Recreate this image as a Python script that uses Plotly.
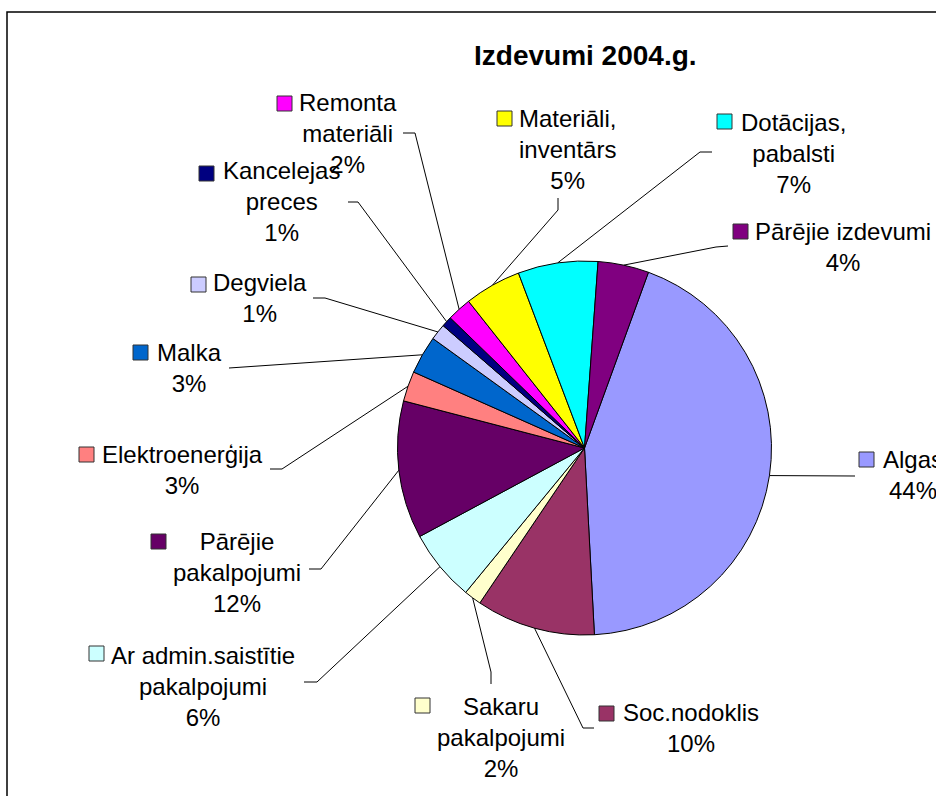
import math
import plotly.graph_objects as go

# ---------------- data ----------------
categories = ["Algas", "Soc.nodoklis", "Sakaru pakalpojumi", "Ar admin.saistītie pakalpojumi",
              "Pārējie pakalpojumi", "Elektroenerģija", "Malka", "Degviela", "Kancelejas preces",
              "Remonta materiāli", "Materiāli, inventārs", "Dotācijas, pabalsti", "Pārējie izdevumi"]
values = [43.6, 10.3, 1.5, 6.2, 11.9, 2.6, 3.3, 1.4, 0.9, 2.1, 4.9, 6.9, 4.4]
colors = ["#9999FF", "#993366", "#FFFFCC", "#CCFFFF", "#660066", "#FF8080", "#0066CC",
          "#CCCCFF", "#000080", "#FF00FF", "#FFFF00", "#00FFFF", "#800080"]
title = "Izdevumi 2004.g."

# ---------------- layout (window pixels) ----------------
W, H = 936, 796
CX, CY, R = 584.5, 448, 187
ROTATION = 20

label_lines = ["Algas", "Soc.nodoklis", "Sakaru<br>pakalpojumi", "Ar admin.saistītie<br>pakalpojumi",
               "Pārējie<br>pakalpojumi", "Elektroenerģija", "Malka", "Degviela", "Kancelejas<br>preces",
               "Remonta<br>materiāli", "Materiāli,<br>inventārs", "Dotācijas,<br>pabalsti", "Pārējie izdevumi"]
label_center = [(913, 475), (691, 728), (501, 737), (203, 686), (237, 572), (182, 470), (189, 368),
                (260, 298), (281, 202), (348, 133), (567, 149), (793, 153), (843, 247)]
key_pos = [(859, 452), (599, 706), (415, 698), (89, 646), (151, 534), (79, 447), (133, 345),
           (191, 277), (199, 166), (277, 96), (497, 111), (717, 114), (733, 224)]
leader_start = [(855, 476), (594, 728), (491, 684), (304, 682), (309, 569), (270, 469), (229, 368),
                (313, 298), (348, 202), (403, 133), (558, 198), (712, 152), (728, 246)]
leader_elbow = [(855, 476), (583, 728), (491, 672), (317, 682), (321, 569), (282, 469), (229, 368),
                (325, 298), (358, 202), (415, 133), (558, 210), (700, 152), (716, 247)]
KEY = 15
FONT = "Arial, Liberation Sans, sans-serif"


def px(x):
    return x / W


def py(y):
    return 1 - y / H


fig = go.Figure()
fig.add_trace(go.Pie(
    labels=categories, values=values, sort=False, direction="clockwise", rotation=ROTATION,
    marker=dict(colors=colors, line=dict(color="black", width=1)),
    textinfo="none", hoverinfo="label+percent", showlegend=False,
    domain=dict(x=[px(CX - R), px(CX + R)], y=[py(CY + R), py(CY - R)]),
))

total = sum(values)
shapes = []
annotations = []
cum = 0.0
for i, v in enumerate(values):
    mid = math.radians(ROTATION + (cum + v / 2) / total * 360)
    cum += v
    ex = CX + R * math.sin(mid)
    ey = CY - R * math.cos(mid)
    sx, sy = leader_start[i]
    bx, by = leader_elbow[i]
    path = "M {} {} L {} {} L {} {}".format(px(sx), py(sy), px(bx), py(by), px(ex), py(ey))
    shapes.append(dict(type="path", xref="paper", yref="paper", path=path,
                       line=dict(color="black", width=1)))
    kx, ky = key_pos[i]
    shapes.append(dict(type="rect", xref="paper", yref="paper",
                       x0=px(kx), x1=px(kx + KEY), y0=py(ky + KEY), y1=py(ky),
                       fillcolor=colors[i], line=dict(color="#333333", width=1)))
    pct = round(v / total * 100)
    lx, ly = label_center[i]
    annotations.append(dict(x=px(lx), y=py(ly), xref="paper", yref="paper",
                            text="{}<br>{}%".format(label_lines[i], pct), showarrow=False,
                            xanchor="center", yanchor="middle", align="center",
                            font=dict(family=FONT, size=24, color="black")))

annotations.append(dict(x=px(585), y=py(56), xref="paper", yref="paper", text="<b>" + title + "</b>",
                        showarrow=False, xanchor="center", yanchor="middle",
                        font=dict(family=FONT, size=28, color="black")))

# chart area frame
shapes.insert(0, dict(type="rect", xref="paper", yref="paper", x0=px(7), x1=px(960),
                      y0=py(830), y1=py(12), line=dict(color="black", width=1.5),
                      fillcolor="rgba(0,0,0,0)", layer="below"))

fig.update_layout(width=W, height=H, margin=dict(l=0, r=0, t=0, b=0),
                  paper_bgcolor="white", plot_bgcolor="white",
                  shapes=shapes, annotations=annotations)
fig.write_html("out.html", config={"displayModeBar": False},
               post_script="document.body.style.margin='0px';document.body.style.overflow='hidden';")
